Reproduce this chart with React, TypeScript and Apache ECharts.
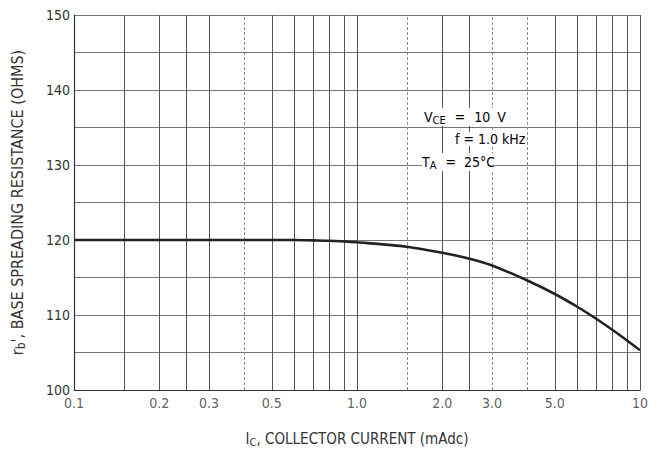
import React, { useEffect, useRef } from 'react';
import * as echarts from 'echarts';

// Collector current (mAdc) and base spreading resistance (ohms)
const currents = [0.1, 0.15, 0.2, 0.3, 0.4, 0.5, 0.6, 0.7, 0.8, 0.9, 1.0, 1.5, 2.0, 2.5, 3.0, 4.0, 5.0, 6.0, 7.0, 8.0, 9.0, 10];
const resistance = [120, 120, 120, 120, 120, 120, 120, 119.95, 119.9, 119.8, 119.7, 119.1, 118.3, 117.5, 116.6, 114.6, 112.8, 111.1, 109.5, 108.0, 106.6, 105.3];

// axis ticks and grid
const xTickValues = [0.1, 0.2, 0.3, 0.5, 1, 2, 3, 5, 10];
const xTickLabels = ['0.1', '0.2', '0.3', '0.5', '1.0', '2.0', '3.0', '5.0', '10'];
const xGridSolid = [0.15, 0.2, 0.25, 0.3, 0.5, 0.6, 0.7, 0.8, 0.9, 1, 2, 2.5, 5, 6, 7, 8, 9, 10];
const xGridDashed = [0.4, 1.5, 3, 4];
const yMin = 100;
const yMax = 150;
const yStep = 5;

const FONT = "'Liberation Sans Narrow', 'DejaVu Sans Condensed', 'Roboto Condensed', sans-serif";

export default function App() {
  const ref = useRef<HTMLDivElement>(null);

  useEffect(() => {
    if (!ref.current) return;
    const chart = echarts.init(ref.current, undefined, { renderer: 'svg' });

    const tickData = xTickValues.map((v, i) => ({ value: [v, yMin], label: xTickLabels[i] }));
    const txt = { fontFamily: FONT, fontSize: 14, color: '#333' };
    const sub = { fontFamily: FONT, fontSize: 11, color: '#333', padding: [7, 0, 0, 0] };

    const option: any = {
      animation: false,
      backgroundColor: '#ffffff',
      grid: { left: 74, right: 18, top: 15, bottom: 66 },
      xAxis: {
        type: 'log',
        logBase: 10,
        min: 0.1,
        max: 10,
        axisLine: { show: true, lineStyle: { color: '#333', width: 1.2 } },
        axisTick: { show: false },
        axisLabel: { show: false },
        splitLine: { show: false },
        minorSplitLine: { show: false },
        name: '{i|I}{sub|C}{i|, COLLECTOR CURRENT (mAdc)}',
        nameLocation: 'middle',
        nameGap: 40,
        nameTextStyle: {
          rich: {
            i: { fontFamily: FONT, fontSize: 15, color: '#333' },
            sub: { fontFamily: FONT, fontSize: 11, color: '#333', padding: [7, 0, 0, 0] },
          },
        },
      },
      yAxis: {
        type: 'value',
        min: yMin,
        max: yMax,
        interval: yStep,
        axisLine: { show: true, lineStyle: { color: '#333', width: 1.2 } },
        axisTick: { show: false },
        axisLabel: {
          fontFamily: FONT,
          fontSize: 14,
          color: '#333',
          margin: 4,
          formatter: (v: number) => (v % 10 === 0 ? String(v) : ''),
        },
        splitLine: { show: true, lineStyle: { color: '#777', width: 1 } },
        name: "{r|r}{sub|b}{r|', BASE SPREADING RESISTANCE (OHMS)}",
        nameLocation: 'middle',
        nameRotate: 90,
        nameGap: 47,
        nameTextStyle: {
          rich: {
            r: { fontFamily: FONT, fontSize: 16, color: '#333' },
            sub: { fontFamily: FONT, fontSize: 12, color: '#333', padding: [7, 0, 0, 0] },
          },
        },
      },
      series: [
        {
          type: 'line',
          name: 'grid',
          data: [],
          markLine: {
            silent: true,
            symbol: 'none',
            label: { show: false },
            data: [
              ...xGridSolid.map((v) => ({ xAxis: v, lineStyle: { color: '#555', width: 1, type: 'solid' } })),
              ...xGridDashed.map((v) => ({ xAxis: v, lineStyle: { color: '#888', width: 1, type: [3, 2] } })),
            ],
          },
        },
        {
          type: 'line',
          name: 'rb',
          data: currents.map((c, i) => [c, resistance[i]]),
          smooth: 0.3,
          symbol: 'none',
          lineStyle: { color: '#222', width: 2.6 },
          z: 5,
        },
        {
          type: 'scatter',
          name: 'xticks',
          data: tickData,
          symbolSize: 1,
          itemStyle: { color: 'rgba(0,0,0,0)' },
          silent: true,
          label: {
            show: true,
            position: 'bottom',
            distance: 5,
            fontFamily: FONT,
            fontSize: 14,
            color: '#333',
            formatter: (p: any) => p.data.label,
          },
        },
      ],
      graphic: [
        {
          type: 'text',
          left: 424,
          top: 108,
          z: 10,
          style: {
            text: '{a|V}{s|CE}{b|=}{b|10}{c|V}',
            backgroundColor: '#fff',
            rich: {
              a: txt,
              s: sub,
              b: { ...txt, padding: [0, 0, 0, 9] },
              c: { ...txt, padding: [0, 0, 0, 7] },
            },
          },
        },
        {
          type: 'text',
          left: 455,
          top: 132,
          z: 10,
          style: {
            text: '{a|f = 1.0 kHz}',
            backgroundColor: '#fff',
            rich: { a: txt },
          },
        },
        {
          type: 'text',
          left: 422,
          top: 153,
          z: 10,
          style: {
            text: '{a|T}{s|A}{b|=}{c|25°C}',
            backgroundColor: '#fff',
            rich: {
              a: txt,
              s: sub,
              b: { ...txt, padding: [0, 0, 0, 9] },
              c: { ...txt, padding: [0, 0, 0, 8] },
            },
          },
        },
      ],
    };

    chart.setOption(option);
    return () => chart.dispose();
  }, []);

  return (
    <div
      ref={ref}
      style={{ position: 'fixed', left: 0, top: 0, width: 658, height: 456, background: '#fff' }}
    />
  );
}
